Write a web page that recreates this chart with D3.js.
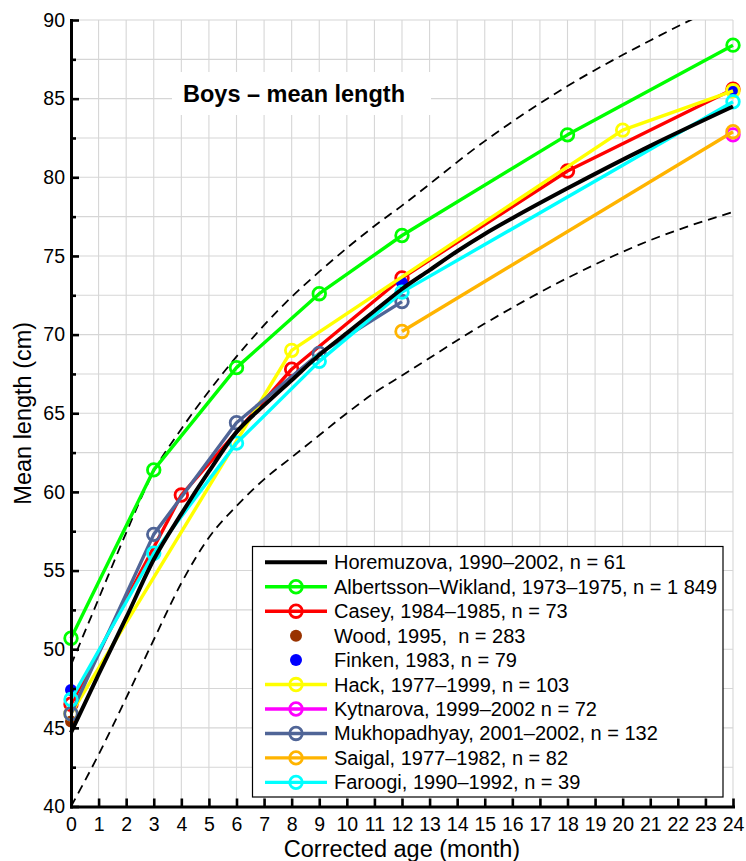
<!DOCTYPE html>
<html>
<head>
<meta charset="utf-8">
<script src="https://cdn.jsdelivr.net/npm/d3@7"></script>
<style>
  html, body { margin: 0; padding: 0; background: #fff; }
  svg { display: block; font-family: "Liberation Sans", Arial, Helvetica, sans-serif; }
</style>
</head>
<body>
<svg id="chart" width="746" height="861"></svg>
<script>
// ---------------- DATA ----------------
const titleText = "Boys \u2013 mean length";
const xLabel = "Corrected age (month)";
const yLabel = "Mean length (cm)";
const xTicks = d3.range(0, 25, 1);
const yTicks = [40, 45, 50, 55, 60, 65, 70, 75, 80, 85, 90];
const yMinorTicks = [42.5, 47.5, 52.5, 57.5, 62.5, 67.5, 72.5, 77.5, 82.5, 87.5];

// reference band (dashed curves)
const refMonths = [0, 1, 2, 3, 4, 5, 6, 7, 8, 9, 10, 11, 12, 15, 18, 21, 24];
const upperValues = [49.0, 53.2, 57.4, 61.3, 64.0, 66.4, 68.6, 70.6, 72.4, 74.0, 75.5, 76.9, 78.2, 82.3, 85.8, 88.7, 91.3];
const lowerValues = [40.0, 43.3, 46.9, 50.6, 54.2, 57.1, 59.1, 60.8, 62.2, 63.6, 65.0, 66.3, 67.4, 70.7, 73.6, 76.0, 77.8];

// Horemuzova (black curve)
const horMonths = [0, 1, 2, 3, 4, 5, 6, 7, 8, 9, 10, 11, 12, 13, 14, 15, 16, 18, 21, 24];
const horValues = [44.7, 48.4, 52.0, 55.7, 58.6, 61.3, 63.8, 65.5, 67.1, 68.7, 70.1, 71.5, 72.9, 74.1, 75.3, 76.4, 77.4, 79.3, 82.0, 84.5];

const albMonths = [0, 3, 6, 9, 12, 18, 24];
const albValues = [50.7, 61.4, 67.9, 72.6, 76.3, 82.7, 88.4];

const casMonths = [0, 4, 8, 12, 18, 24];
const casValues = [46.5, 59.8, 67.8, 73.6, 80.4, 85.6];

const woodMonths = [0];
const woodValues = [45.4];

const finMonths = [0, 12, 24];
const finValues = [47.4, 73.3, 85.5];

const hackMonths = [0, 8, 20, 24];
const hackValues = [45.9, 69.0, 83.0, 85.5];

const kytMonths = [24];
const kytValues = [82.7];

const mukMonths = [0, 3, 6, 9, 12];
const mukValues = [45.9, 57.3, 64.4, 68.8, 72.1];

const saiMonths = [12, 24];
const saiValues = [70.2, 82.9];

const farMonths = [0, 3, 6, 9, 12, 24];
const farValues = [46.8, 56.1, 63.1, 68.3, 72.7, 84.8];

const seriesNames = [
  "Horemuzova, 1990\u20132002, n = 61",
  "Albertsson\u2013Wikland, 1973\u20131975, n = 1 849",
  "Casey, 1984\u20131985, n = 73",
  "Wood, 1995,  n = 283",
  "Finken, 1983, n = 79",
  "Hack, 1977\u20131999, n = 103",
  "Kytnarova, 1999\u20132002 n = 72",
  "Mukhopadhyay, 2001\u20132002, n = 132",
  "Saigal, 1977\u20131982, n = 82",
  "Faroogi, 1990\u20131992, n = 39"
];

// ---------------- STYLE / BUILD ----------------
const zip = (ms, vs) => ms.map((m, i) => ({ m, v: vs[i] }));
const series = [
  { name: seriesNames[0], color: "#000000", pts: zip(horMonths, horValues), kind: "curve" },
  { name: seriesNames[1], color: "#00ff00", pts: zip(albMonths, albValues), kind: "ring" },
  { name: seriesNames[2], color: "#ff0000", pts: zip(casMonths, casValues), kind: "ring" },
  { name: seriesNames[3], color: "#993300", pts: zip(woodMonths, woodValues), kind: "dot" },
  { name: seriesNames[4], color: "#0000ff", pts: zip(finMonths, finValues), kind: "dot" },
  { name: seriesNames[5], color: "#ffff00", pts: zip(hackMonths, hackValues), kind: "ring" },
  { name: seriesNames[6], color: "#ff00ff", pts: zip(kytMonths, kytValues), kind: "ring" },
  { name: seriesNames[7], color: "#506597", pts: zip(mukMonths, mukValues), kind: "ring" },
  { name: seriesNames[8], color: "#ffb400", pts: zip(saiMonths, saiValues), kind: "ring" },
  { name: seriesNames[9], color: "#00ffff", pts: zip(farMonths, farValues), kind: "ring" }
];

const svg = d3.select("#chart");
const x = d3.scaleLinear().domain([0, 24]).range([71, 733]);
const y = d3.scaleLinear().domain([40, 90]).range([806.5, 20]);

const gridColor = "#d6d6d6";
const LW = 3.4, RING_R = 6.3, RING_W = 2.8, DOT_R = 6;

// grid
const grid = svg.append("g");
grid.selectAll("line.v").data(xTicks).join("line")
  .attr("x1", d => x(d)).attr("x2", d => x(d))
  .attr("y1", y(40)).attr("y2", y(90))
  .attr("stroke", gridColor).attr("stroke-width", 1.1);
grid.selectAll("line.h").data(yTicks.concat(yMinorTicks)).join("line")
  .attr("x1", x(0)).attr("x2", x(24))
  .attr("y1", d => y(d)).attr("y2", d => y(d))
  .attr("stroke", gridColor).attr("stroke-width", 1.1);

// title with white box
const titleG = svg.append("g");
const titleRect = titleG.append("rect").attr("fill", "#fff");
const title = titleG.append("text")
  .attr("x", 183).attr("y", 102)
  .attr("font-size", 23.5).attr("font-weight", "bold").attr("fill", "#000")
  .text(titleText);
const tb = title.node().getBBox();
titleRect.attr("x", tb.x - 11).attr("y", 72).attr("width", tb.width + 37).attr("height", 43);

// clip
svg.append("clipPath").attr("id", "plotclip").append("rect")
  .attr("x", x(0)).attr("y", y(90)).attr("width", x(24) - x(0)).attr("height", y(40) - y(90));

const plot = svg.append("g").attr("clip-path", "url(#plotclip)");

// dashed reference curves
const refLine = d3.line().x(d => x(d.m)).y(d => y(d.v)).curve(d3.curveMonotoneX);
[upperValues, lowerValues].forEach(vals => {
  plot.append("path").datum(zip(refMonths, vals))
    .attr("d", refLine).attr("fill", "none")
    .attr("stroke", "#000").attr("stroke-width", 1.8)
    .attr("stroke-dasharray", "9,6");
});

const linLine = d3.line().x(d => x(d.m)).y(d => y(d.v));
const curveLine = d3.line().x(d => x(d.m)).y(d => y(d.v)).curve(d3.curveMonotoneX);

const marks = svg.append("g");
const drawOrder = series.slice(1).concat([series[0]]);
drawOrder.forEach(s => {
  const g = marks.append("g");
  if (s.kind === "ring" || s.kind === "curve") {
    if (s.pts.length > 1) {
      g.append("path").datum(s.pts)
        .attr("d", s.kind === "curve" ? curveLine : linLine)
        .attr("fill", "none").attr("stroke", s.color)
        .attr("stroke-width", s.kind === "curve" ? 4 : LW)
        .attr("stroke-linejoin", "round");
    }
  }
  if (s.kind === "ring") {
    g.selectAll("circle").data(s.pts).join("circle")
      .attr("cx", d => x(d.m)).attr("cy", d => y(d.v)).attr("r", RING_R)
      .attr("fill", "none").attr("stroke", s.color).attr("stroke-width", RING_W);
  } else if (s.kind === "dot") {
    g.selectAll("circle").data(s.pts).join("circle")
      .attr("cx", d => x(d.m)).attr("cy", d => y(d.v)).attr("r", DOT_R)
      .attr("fill", s.color);
  }
});

// axes
const yAxis = d3.axisLeft(y).tickValues(yTicks).tickSizeInner(-8).tickSizeOuter(0).tickPadding(6);
const yAxisMinor = d3.axisLeft(y).tickValues(yMinorTicks).tickSizeInner(-5).tickSizeOuter(0).tickFormat("");
const xAxis = d3.axisBottom(x).tickValues(xTicks).tickSizeInner(-8).tickSizeOuter(0).tickPadding(11);

const gy = svg.append("g").attr("transform", `translate(${x(0)},0)`).call(yAxis);
const gym = svg.append("g").attr("transform", `translate(${x(0)},0)`).call(yAxisMinor);
const gx = svg.append("g").attr("transform", `translate(0,${y(40)})`).call(xAxis);
gym.select(".domain").remove();
[gy, gx, gym].forEach(g => {
  g.selectAll(".tick line").attr("stroke", "#000").attr("stroke-width", 2.6);
  g.selectAll(".tick text").attr("font-size", 19.5).attr("fill", "#000")
    .attr("font-family", "Liberation Sans, Arial, sans-serif");
  g.select(".domain").attr("stroke", "#000").attr("stroke-width", 3).attr("stroke-linecap", "square");
});

// axis labels
svg.append("text").attr("x", (x(0) + x(24)) / 2).attr("y", 857)
  .attr("text-anchor", "middle").attr("font-size", 23.5).attr("fill", "#000").text(xLabel);
svg.append("text").attr("transform", `translate(30.5,${(y(40) + y(90)) / 2}) rotate(-90)`)
  .attr("text-anchor", "middle").attr("font-size", 23.5).attr("fill", "#000").text(yLabel);

// legend
const lg = svg.append("g");
lg.append("rect").attr("x", 252.5).attr("y", 546.5).attr("width", 470.5).attr("height", 250.5)
  .attr("fill", "#fff").attr("stroke", "#000").attr("stroke-width", 1.2);
const rowY = i => 562.3 + i * 24.45;
series.forEach((s, i) => {
  const cy = rowY(i);
  if (s.kind !== "dot") {
    lg.append("line").attr("x1", 265).attr("x2", 327).attr("y1", cy).attr("y2", cy)
      .attr("stroke", s.color).attr("stroke-width", s.kind === "curve" ? 4 : LW);
  }
  if (s.kind === "ring") {
    lg.append("circle").attr("cx", 296).attr("cy", cy).attr("r", RING_R)
      .attr("fill", "none").attr("stroke", s.color).attr("stroke-width", RING_W);
  } else if (s.kind === "dot") {
    lg.append("circle").attr("cx", 296).attr("cy", cy).attr("r", DOT_R).attr("fill", s.color);
  }
  lg.append("text").attr("x", 334).attr("y", cy + 7)
    .attr("font-size", 20).attr("fill", "#000")
    .style("white-space", "pre")
    .text(s.name);
});
</script>
</body>
</html>
